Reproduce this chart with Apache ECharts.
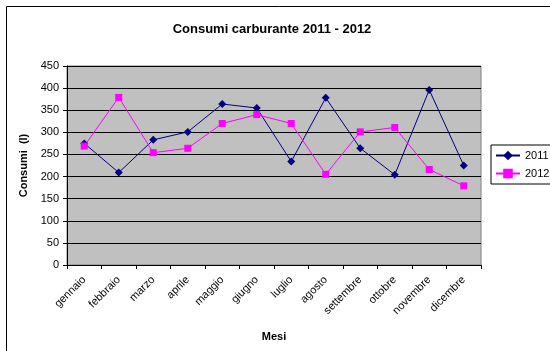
<!DOCTYPE html>
<html>
<head>
<meta charset="utf-8">
<script src="https://cdn.jsdelivr.net/npm/echarts@6/dist/echarts.min.js"></script>
<style>
  html, body { margin: 0; padding: 0; background: #fff; }
  #chart { width: 550px; height: 351px; }
</style>
</head>
<body>
<div id="chart"></div>
<script>
// mesi e consumi
const mesi = ['gennaio', 'febbraio', 'marzo', 'aprile', 'maggio', 'giugno',
  'luglio', 'agosto', 'settembre', 'ottobre', 'novembre', 'dicembre'];
const consumi2011 = [275, 209, 283, 301, 364, 355, 234, 378, 264, 204, 396, 225];
const consumi2012 = [269, 379, 254, 264, 320, 340, 320, 205, 301, 311, 216, 179];
const yTicks = { min: 0, max: 450, step: 50 };

const font = 'Liberation Sans, Arial, sans-serif';
const chart = echarts.init(document.getElementById('chart'));

chart.setOption({
  animation: false,
  backgroundColor: '#fff',
  textStyle: { fontFamily: font },
  graphic: [
    // cornice esterna
    {
      type: 'rect',
      shape: { x: 6.5, y: 6.5, width: 600, height: 400 },
      style: { fill: 'none', stroke: '#000', lineWidth: 1 },
      z: 100
    }
  ],
  title: {
    text: 'Consumi carburante 2011 - 2012',
    left: 267, top: 18, textAlign: 'center',
    textStyle: { fontFamily: font, fontSize: 13, fontWeight: 'bold', color: '#000' }
  },
  legend: {
    orient: 'vertical',
    left: 491, top: 145,
    padding: [5, 40, 5, 4],
    itemWidth: 24, itemHeight: 12, itemGap: 7,
    borderColor: '#000', borderWidth: 1,
    textStyle: { fontFamily: font, fontSize: 11, color: '#000' },
    data: ['2011', '2012']
  },
  grid: {
    left: 67, right: 69, top: 66, bottom: 86,
    show: true, backgroundColor: '#C0C0C0', borderColor: '#808080', borderWidth: 1
  },
  xAxis: {
    type: 'category',
    data: mesi,
    boundaryGap: true,
    name: 'Mesi',
    nameLocation: 'middle',
    nameGap: 66,
    nameTextStyle: { fontFamily: font, fontSize: 11, fontWeight: 'bold', color: '#000' },
    axisLine: { lineStyle: { color: '#000' } },
    axisTick: { show: true, length: 4, lineStyle: { color: '#000' } },
    axisLabel: { rotate: 45, margin: 13, fontSize: 11, color: '#000', fontFamily: font, interval: 0 }
  },
  yAxis: {
    type: 'value',
    min: yTicks.min, max: yTicks.max, interval: yTicks.step,
    name: 'Consumi  (l)',
    nameLocation: 'middle',
    nameGap: 36,
    nameTextStyle: { fontFamily: font, fontSize: 11, fontWeight: 'bold', color: '#000' },
    axisLine: { show: true, lineStyle: { color: '#000' } },
    axisTick: { show: true, length: 4, lineStyle: { color: '#000' } },
    axisLabel: { fontSize: 11, color: '#000', fontFamily: font, margin: 8 },
    splitLine: { show: true, lineStyle: { color: '#000', width: 1 } }
  },
  series: [
    {
      name: '2011',
      type: 'line',
      data: consumi2011,
      symbol: 'diamond', symbolSize: 8,
      lineStyle: { color: '#000080', width: 1 },
      itemStyle: { color: '#000080' }
    },
    {
      name: '2012',
      type: 'line',
      data: consumi2012,
      symbol: 'rect', symbolSize: 7,
      lineStyle: { color: '#FF00FF', width: 1 },
      itemStyle: { color: '#FF00FF' }
    }
  ]
});
</script>
</body>
</html>
